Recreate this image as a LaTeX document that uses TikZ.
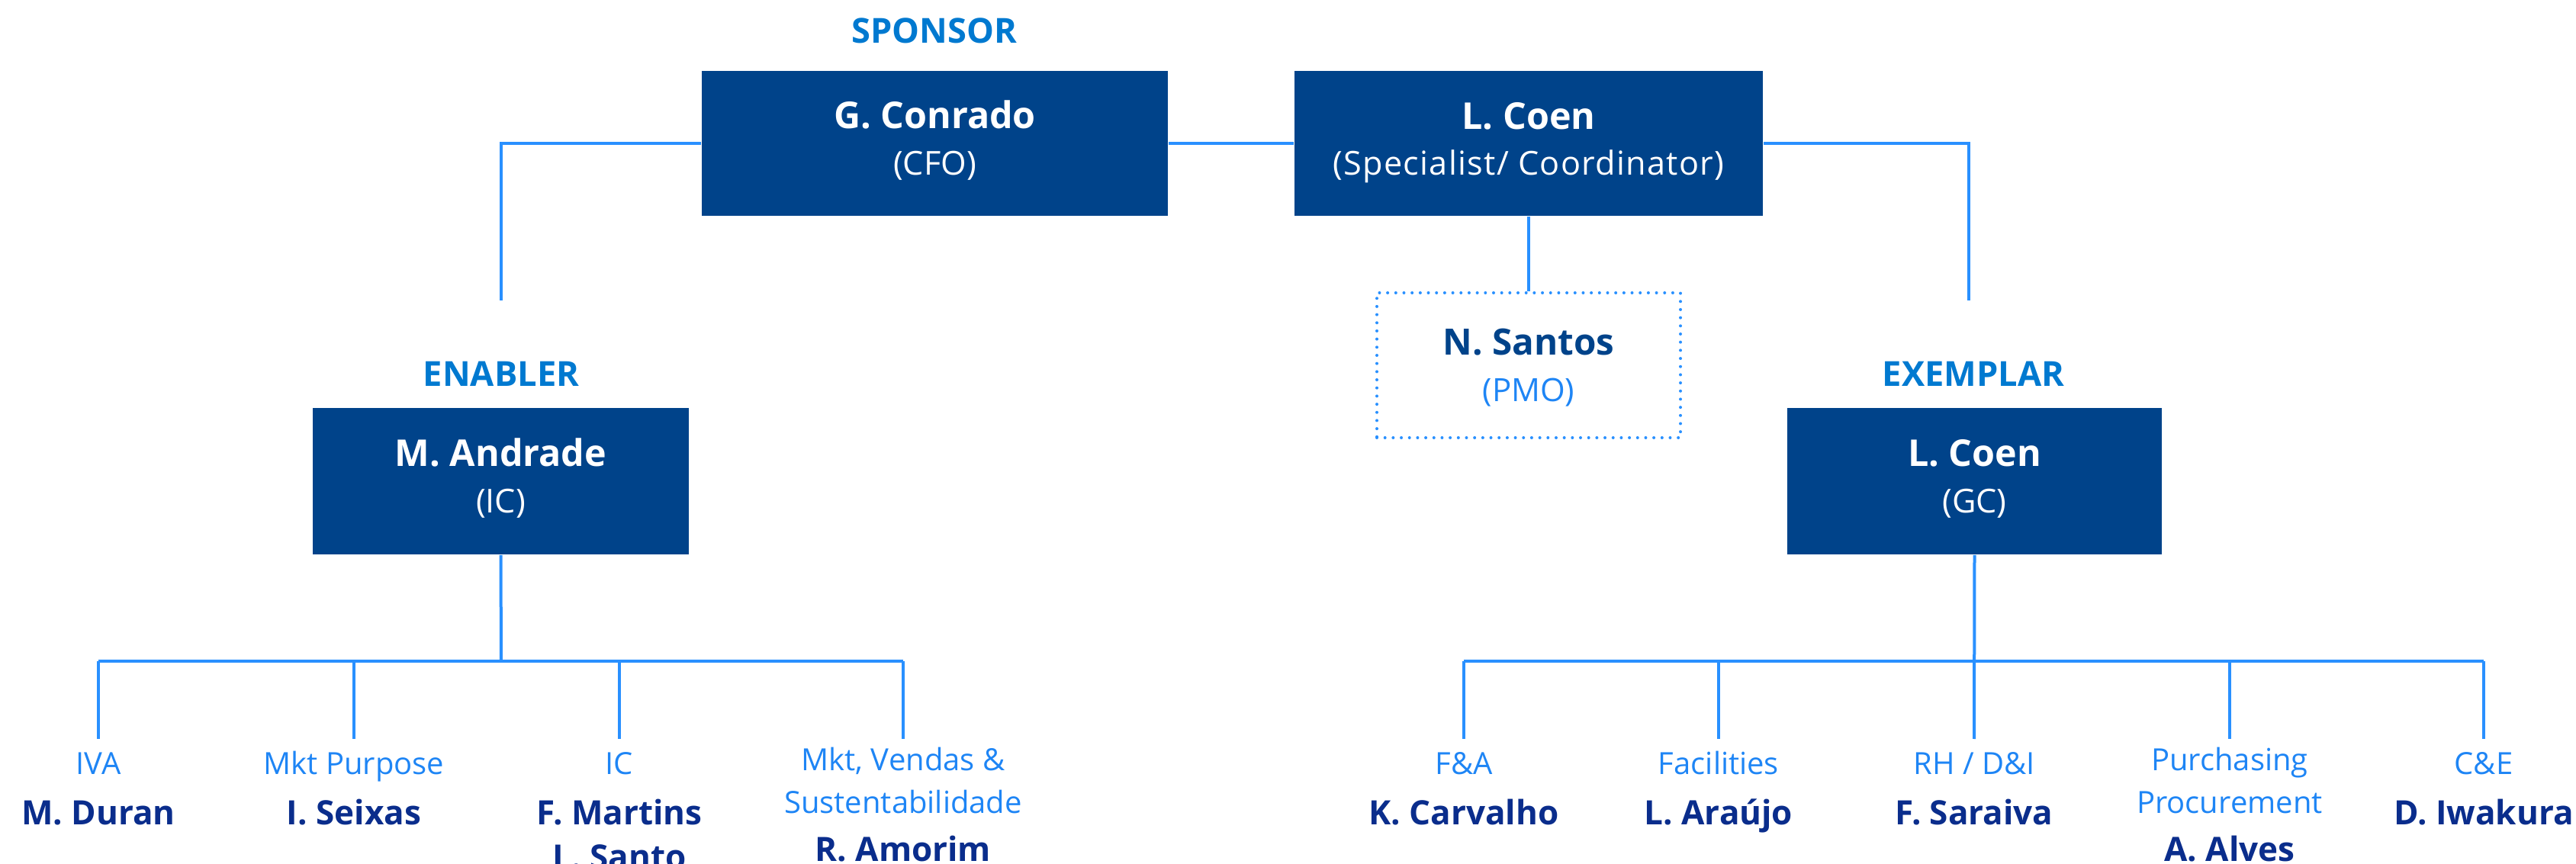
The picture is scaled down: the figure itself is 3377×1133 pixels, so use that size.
\documentclass[tikz,border=0pt]{standalone}
\usepackage{fontspec}
\setmainfont{Open Sans}[Ligatures=NoCommon]
\definecolor{boxblue}{HTML}{00438A}
\definecolor{lineblue}{HTML}{2990FF}
\definecolor{lblblue}{HTML}{1E85F5}
\definecolor{headblue}{HTML}{0079D0}
\definecolor{navy}{HTML}{0A2D8C}
\tikzset{
  orgbox/.style={rectangle, fill=boxblue, draw=none, inner sep=0pt},
  dotbox/.style={rectangle, draw=lineblue, line width=1pt, dash pattern=on 0pt off 2.67pt, line cap=round, inner sep=0pt},
  conn/.style={draw=lineblue, line width=1pt},
  bus/.style={draw=lineblue, line width=1.2pt},
  txt/.style={anchor=base, inner sep=0pt},
  head/.style={txt, text=headblue, font=\fontsize{11.3}{13}\selectfont\bfseries},
  bname/.style={txt, text=white, font=\fontsize{12.1}{14}\selectfont\bfseries},
  bsub/.style={txt, text=white, font=\fontsize{10.8}{12}\selectfont},
  lname/.style={txt, text=navy, font=\fontsize{11}{13}\selectfont\bfseries},
  llbl/.style={txt, text=lblblue, font=\fontsize{10}{12}\selectfont},
}
\begin{document}
\begin{tikzpicture}[x=0.25pt,y=-0.25pt]
\useasboundingbox (0,0) rectangle (3377,1133);
% top level
\node[head] (sp) at (1225,57) {SPONSOR};
\node[orgbox, minimum width=152.75pt, minimum height=47.5pt] (gc) at (1225.5,188) {};
\node[bname] (gcn) at (1225.5,169) {G. Conrado};
\node[bsub] (gcs) at (1225.5,230) {(CFO)};
\node[orgbox, minimum width=153.5pt, minimum height=47.5pt] (lc) at (2004,188) {};
\node[bname] (lcn) at (2004,170) {L. Coen};
\node[bsub] (lcs) at (2004,230) {\addfontfeature{LetterSpace=3}(Specialist/ Coordinator)};
% PMO
\node[dotbox, minimum width=99.5pt, minimum height=47.5pt] (ns) at (2004,479) {};
\node[txt, text=boxblue, font=\fontsize{11.9}{13}\selectfont\bfseries] (nsn) at (2004,466) {N. Santos};
\node[txt, text=lblblue, font=\fontsize{10.5}{12}\selectfont] (nss) at (2004,527) {(PMO)};
% enabler
\node[head] (en) at (657,507) {ENABLER};
\node[orgbox, minimum width=123.25pt, minimum height=48pt] (ma) at (656.5,631) {};
\node[bname] (man) at (656.5,612) {M. Andrade};
\node[bsub] (mas) at (656.5,673) {(IC)};
% exemplar
\node[head] (ex) at (2587,507) {EXEMPLAR};
\node[orgbox, minimum width=122.75pt, minimum height=48pt] (gcc) at (2588.5,631) {};
\node[bname] (gccn) at (2588.5,612) {L. Coen};
\node[bsub] (gccs) at (2588.5,673) {(GC)};
% top connectors
\coordinate (entop) at (657,394);
\coordinate (extop) at (2581,394);
\draw[conn] (gc.west) -| (entop);
\draw[conn] (gc.east) -- (lc.west);
\draw[conn] (lc.east) -| (extop);
\draw[conn] (lc.south) -- (ns.north);
% left subtree
\coordinate (lbus) at (657,867);
\coordinate (l1) at (129,969);
\coordinate (l2) at (464,969);
\coordinate (l3) at (812,969);
\coordinate (l4) at (1184,969);
\draw[conn] (ma.south) -- (lbus);
\draw[conn] (l1) -- (l1 |- lbus);
\draw[conn] (l2) -- (l2 |- lbus);
\draw[conn] (l3) -- (l3 |- lbus);
\draw[conn] (l4) -- (l4 |- lbus);
\draw[bus] (l1 |- lbus) -- (l4 |- lbus);
\node[llbl] (a1) at (129,1016) {IVA};
\node[lname] (n1) at (129,1081) {M. Duran};
\node[llbl] (a2) at (464,1016) {Mkt Purpose};
\node[lname] (n2) at (464,1081) {I. Seixas};
\node[llbl] (a3) at (812,1016) {IC};
\node[lname] (n3) at (812,1081) {F. Martins};
\node[lname] (n3b) at (812,1139) {L. Santo};
\node[llbl] (a4) at (1184,1010) {Mkt, Vendas \&};
\node[llbl] (a4b) at (1184,1066) {Sustentabilidade};
\node[lname] (n4) at (1184,1129) {R. Amorim};
% right subtree
\coordinate (rbus) at (2588,867);
\coordinate (r1) at (1919,969);
\coordinate (r2) at (2253,969);
\coordinate (r3) at (2588,969);
\coordinate (r4) at (2923,969);
\coordinate (r5) at (3256,969);
\draw[conn] (gcc.south) -- (r3);
\draw[conn] (r1) -- (r1 |- rbus);
\draw[conn] (r2) -- (r2 |- rbus);
\draw[conn] (r4) -- (r4 |- rbus);
\draw[conn] (r5) -- (r5 |- rbus);
\draw[bus] (r1 |- rbus) -- (r5 |- rbus);
\node[llbl] (b1) at (1919,1016) {F\&A};
\node[lname] (m1) at (1919,1081) {K. Carvalho};
\node[llbl] (b2) at (2253,1016) {Facilities};
\node[lname] (m2) at (2253,1081) {L. Araújo};
\node[llbl] (b3) at (2588,1016) {RH / D\&I};
\node[lname] (m3) at (2588,1081) {F. Saraiva};
\node[llbl] (b4) at (2923,1010) {Purchasing};
\node[llbl] (b4b) at (2923,1066) {Procurement};
\node[lname] (m4) at (2923,1129) {A. Alves};
\node[llbl] (b5) at (3256,1016) {C\&E};
\node[lname] (m5) at (3256,1081) {D. Iwakura};
\end{tikzpicture}
\end{document}
